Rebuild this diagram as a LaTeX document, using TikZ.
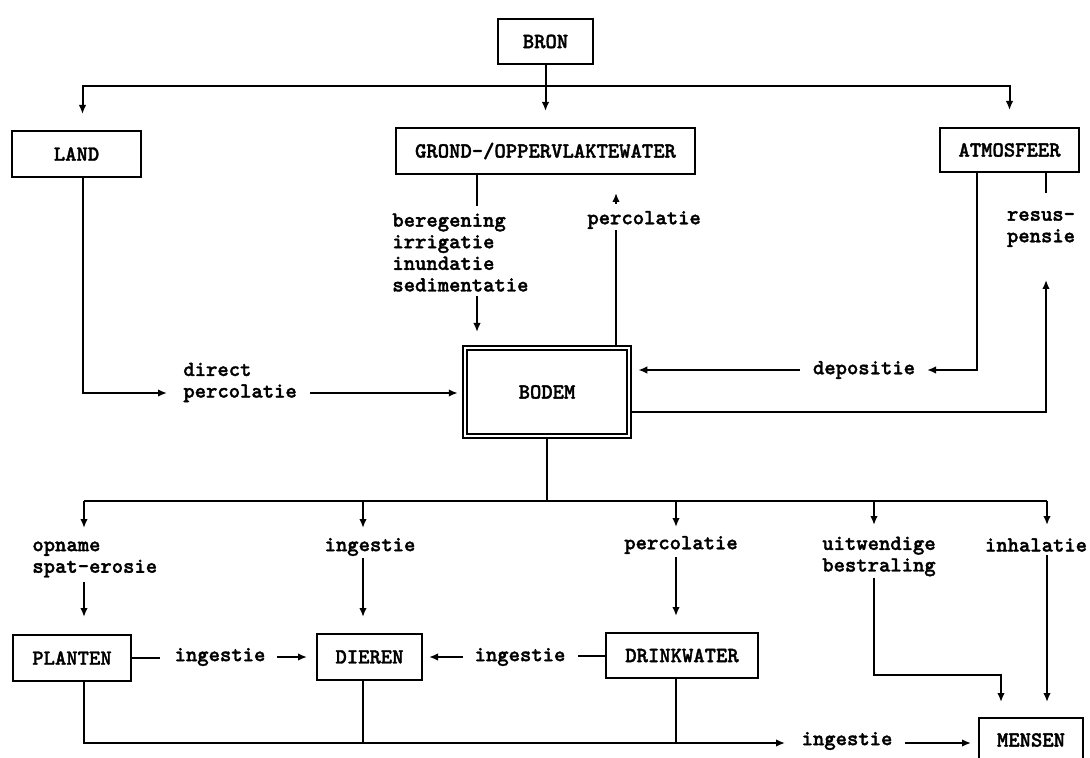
\documentclass[tikz,border=0pt]{standalone}
\usepackage{fontspec}
\newfontfamily\koerier{lmmonolt10-bold}[Extension=.otf,FakeBold=1.6]
\usetikzlibrary{arrows.meta}
\begin{document}
\begin{tikzpicture}[x=0.5pt,y=-0.5pt]
	% Stijlen
	\tikzstyle{lijn}=[line width=1pt]
	\tikzstyle{pijl}=[lijn,-{Latex[length=4.5pt,width=3.8pt]}]
	\tikzstyle{letter}=[font=\koerier\fontsize{10.8}{10.8}\selectfont]
	\tikzstyle{blok}=[letter,draw,line width=1pt,inner sep=0pt]
	\tikzstyle{dubbel}=[double,double distance=1.1pt]
	\tikzstyle{tekst}=[letter,inner sep=0pt]
	% Rijen (in beeldpunten)
	\def\RijBron{86}
	\def\RijBodem{501}
	\def\RijOnder{743}
	\useasboundingbox (0,0) rectangle (1090,758);
	% Blokken
	\node[blok,minimum width=47.5pt,minimum height=22.5pt] (Bron) at (545.5,41.5) {BRON};
	\node[blok,minimum width=64.5pt,minimum height=23pt] (Land) at (76.5,154) {LAND};
	\node[blok,minimum width=149.5pt,minimum height=23pt] (Water) at (545.5,151) {GROND-/OPPERVLAKTEWATER};
	\node[blok,minimum width=69.5pt,minimum height=22pt] (Atmo) at (1009.5,150) {ATMOSFEER};
	\node[blok,dubbel,minimum width=82.25pt,minimum height=44pt] (Bodem) at (547,392) {BODEM};
	\node[blok,minimum width=59pt,minimum height=23pt] (Planten) at (72,658) {PLANTEN};
	\node[blok,minimum width=52.5pt,minimum height=23pt] (Dieren) at (369.5,657) {DIEREN};
	\node[blok,minimum width=76pt,minimum height=22.5pt] (Drink) at (682,655.5) {DRINKWATER};
	\node[blok,minimum width=52pt,minimum height=22pt] (Mensen) at (1031,740) {MENSEN};
	% Teksten bij de pijlen
	\node[tekst,anchor=west,align=left] (Direct) at (183,382.5) {direct\\percolatie};
	\node[tekst,anchor=west,align=left] (Beregening) at (392,252.5) {beregening\\irrigatie\\inundatie\\sedimentatie};
	\node[tekst,anchor=west] (PercoOp) at (587,220) {percolatie};
	\node[tekst] (Depositie) at (864,370) {depositie};
	\node[tekst,align=center] (Resus) at (1041,229) {resus-\\pensie};
	\node[tekst,anchor=west,align=left] (Opname) at (32,559.5) {opname\\spat-erosie};
	\node[tekst] (IngDier) at (370,547) {ingestie};
	\node[tekst] (PercoDrink) at (681,545) {percolatie};
	\node[tekst,align=center] (Uitwendig) at (879,556.5) {uitwendige\\bestraling};
	\node[tekst] (Inhalatie) at (1036,545) {inhalatie};
	\node[tekst] (IngPlant) at (220,657) {ingestie};
	\node[tekst] (IngDrink) at (520,657) {ingestie};
	\node[tekst] (IngMens) at (847,741) {ingestie};
	% Hulppunten
	\coordinate (Splits) at (545.5,\RijBron);
	\coordinate (LandX) at (82.5,0);
	\coordinate (LandPijl) at (167,393);
	\coordinate (DirectUit) at (310,393);
	\coordinate (BeregenBoven) at (477,206);
	\coordinate (BeregenOnder) at (477,296);
	\coordinate (PercOnder) at (616,230);
	\coordinate (PercBoven) at (616,204);
	\coordinate (AtmoLinks) at (977,370);
	\coordinate (DepoPijl) at (927,370);
	\coordinate (DepoUit) at (800,370);
	\coordinate (ResBoven) at (1046,193);
	\coordinate (ResPijl) at (1046,280);
	\coordinate (Verdeel) at (547,\RijBodem);
	\coordinate (K1) at (84,\RijBodem);
	\coordinate (K2) at (363,\RijBodem);
	\coordinate (K3) at (676,\RijBodem);
	\coordinate (K4) at (874,\RijBodem);
	\coordinate (K5) at (1047,\RijBodem);
	\coordinate (P1) at (84,528);
	\coordinate (P2) at (363,528);
	\coordinate (P3) at (676,527);
	\coordinate (P4) at (874,525);
	\coordinate (P5) at (1047,525);
	\coordinate (Q1) at (84,582);
	\coordinate (Q2) at (363,558);
	\coordinate (Q3) at (676,557);
	\coordinate (Q4) at (874,578);
	\coordinate (Q5) at (1047,555);
	\coordinate (Knik) at (1001,675);
	\coordinate (PlantUit) at (160,657);
	\coordinate (PlantIn) at (277,657);
	\coordinate (DrinkUit) at (578,657);
	\coordinate (DrinkIn) at (463,657);
	\coordinate (OnderPijl) at (785,\RijOnder);
	\coordinate (MensIn) at (905,\RijOnder);
	% Pijlen boven
	\draw[lijn] (Bron) -- (Splits);
	\draw[pijl,shorten >=8pt] (Splits) -- (Water);
	\draw[pijl,shorten >=8pt] (Splits) -| (Land.north -| LandX);
	\draw[pijl,shorten >=8.5pt] (Splits) -| (Atmo.north);
	% Naar de bodem
	\draw[pijl] (Land.south -| LandX) |- (LandPijl);
	\draw[pijl,shorten >=3pt] (DirectUit) -- (DirectUit -| Bodem.west);
	\draw[lijn] (Water.south -| BeregenBoven) -- (BeregenBoven);
	\draw[pijl,shorten >=7.5pt] (BeregenOnder) -- (Bodem.north -| BeregenOnder);
	\draw[pijl] (Atmo.south -| AtmoLinks) |- (DepoPijl);
	\draw[pijl,shorten >=4pt] (DepoUit) -- (DepoUit -| Bodem.east);
	% Vanuit de bodem omhoog
	\draw[lijn] (Bodem.north -| PercOnder) -- (PercOnder);
	\draw[pijl,shorten >=9pt] (PercBoven) -- (Water.south -| PercBoven);
	\draw[lijn] (Atmo.south -| ResBoven) -- (ResBoven);
	\draw[pijl] ([yshift=-10pt]Bodem.east) -| (ResPijl);
	% Vanuit de bodem omlaag
	\draw[lijn] (Bodem.south) -- (Verdeel);
	\draw[lijn] (K1) -- (K5);
	\draw[pijl] (K1) -- (P1);
	\draw[pijl] (K2) -- (P2);
	\draw[pijl] (K3) -- (P3);
	\draw[pijl] (K4) -- (P4);
	\draw[pijl] (K5) -- (P5);
	\draw[pijl,shorten >=8.5pt] (Q1) -- (Planten.north -| Q1);
	\draw[pijl,shorten >=8pt] (Q2) -- (Dieren.north -| Q2);
	\draw[pijl,shorten >=8pt] (Q3) -- (Drink.north -| Q3);
	\draw[pijl,shorten >=7.5pt] (Q4) |- (Knik) -- (Mensen.north -| Knik);
	\draw[pijl,shorten >=7.5pt] (Q5) -- (Mensen.north -| Q5);
	% Onderste rij
	\draw[lijn] (Planten.east) -- (Planten.east -| PlantUit);
	\draw[pijl,shorten >=4.5pt] (PlantIn) -- (PlantIn -| Dieren.west);
	\draw[lijn] (Drink.west) -- (Drink.west -| DrinkUit);
	\draw[pijl,shorten >=3pt] (DrinkIn) -- (DrinkIn -| Dieren.east);
	\draw[pijl] (Planten.south -| K1) |- (OnderPijl);
	\draw[lijn] (Dieren.south -| K2) -- (K2 |- OnderPijl);
	\draw[lijn] (Drink.south -| K3) -- (K3 |- OnderPijl);
	\draw[pijl,shorten >=3.5pt] (MensIn) -- (MensIn -| Mensen.west);
\end{tikzpicture}
\end{document}
